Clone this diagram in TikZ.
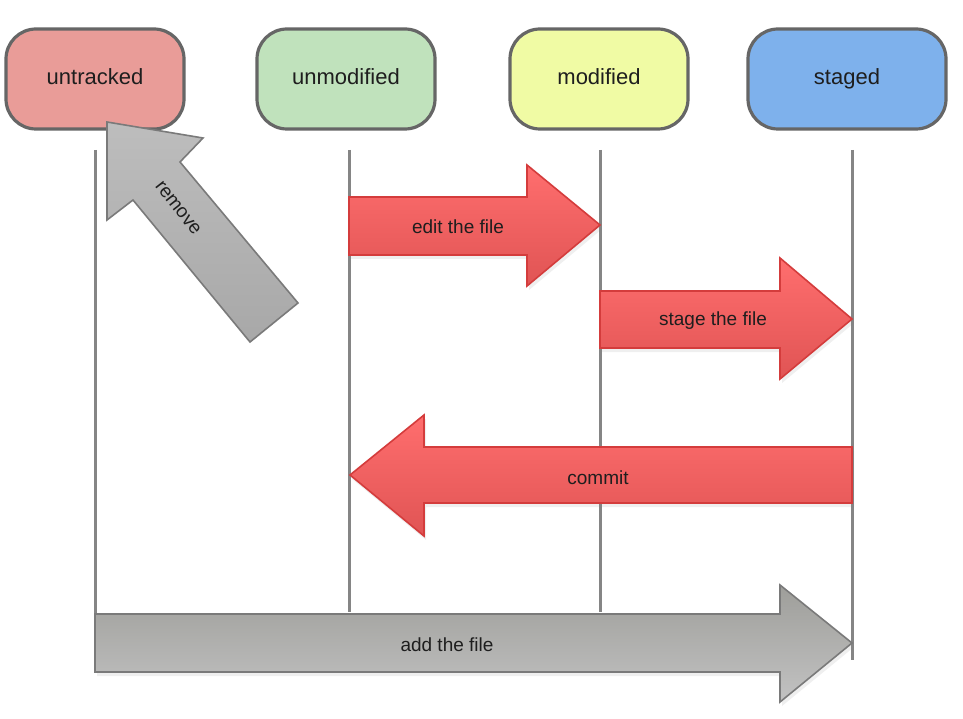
\documentclass[tikz,border=0pt]{standalone}
\usepackage{fontspec}
\setmainfont{Liberation Sans}
\usetikzlibrary{shadows}
\definecolor{cuntr}{HTML}{E99C98}
\definecolor{cunmod}{HTML}{C0E2BC}
\definecolor{cmod}{HTML}{F0FBA4}
\definecolor{cstaged}{HTML}{7EB1EC}
\definecolor{cborder}{HTML}{666666}
\definecolor{cline}{HTML}{858585}
\definecolor{credtop}{HTML}{FF6E6E}
\definecolor{credbot}{HTML}{E05454}
\definecolor{credline}{HTML}{D43C3C}
\definecolor{cgraytop}{HTML}{9E9E9A}
\definecolor{cgraybot}{HTML}{C2C2C2}
\definecolor{cgrayline}{HTML}{7A7A7A}
\definecolor{cremtop}{HTML}{BDBDBD}
\definecolor{crembot}{HTML}{A8A8A8}
\definecolor{ctext}{HTML}{1E1E1E}
\begin{document}
\begin{tikzpicture}[x=1pt,y=-1pt,
  statebox/.style={draw=cborder, line width=3.2pt, rounded corners=30pt,
    minimum width=178pt, minimum height=100pt, inner sep=0pt,
    text height=16pt, text depth=5pt,
    font=\fontsize{22}{26}\selectfont, text=ctext},
  lifeline/.style={draw=cline, line width=3pt},
  redarrow/.style={draw=credline, line width=1.6pt, top color=credtop, bottom color=credbot,
    line join=miter, drop shadow={opacity=0.12, shadow xshift=2pt, shadow yshift=-4pt}},
  grayarrow/.style={draw=cgrayline, line width=1.6pt, top color=cgraytop, bottom color=cgraybot,
    line join=miter, drop shadow={opacity=0.12, shadow xshift=2pt, shadow yshift=-4pt}},
  arrowlabel/.style={font=\fontsize{19}{23}\selectfont, text=ctext, inner sep=0pt}]
\useasboundingbox (0,0) rectangle (963,719);
\fill[white] (0,0) rectangle (963,719);

% lifelines
\coordinate (l1t) at (95,150);  \coordinate (l1b) at (95,668);
\coordinate (l2t) at (349,150); \coordinate (l2b) at (349,612);
\coordinate (l3t) at (600,150); \coordinate (l3b) at (600,612);
\coordinate (l4t) at (852,150); \coordinate (l4b) at (852,660);
\draw[lifeline] (l1t) -- (l1b);
\draw[lifeline] (l2t) -- (l2b);
\draw[lifeline] (l3t) -- (l3b);
\draw[lifeline] (l4t) -- (l4b);

% state boxes
\node[statebox, fill=cuntr]   (untracked)  at (95,79)  {untracked};
\node[statebox, fill=cunmod]  (unmodified) at (346,79) {unmodified};
\node[statebox, fill=cmod]    (modified)   at (599,79) {modified};
\node[statebox, fill=cstaged, minimum width=198pt] (staged) at (847,79) {staged};

% edit the file
\path[redarrow] (349,197) -- (527,197) -- (527,165) -- (600,225) -- (527,286) -- (527,255) -- (349,255) -- cycle;
\node[arrowlabel] (edit) at (458,227) {edit the file};

% stage the file
\path[redarrow] (600,291) -- (780,291) -- (780,258) -- (852,319) -- (780,379) -- (780,348) -- (600,348) -- cycle;
\node[arrowlabel] (stage) at (713,321) {stage the file};

% commit
\path[redarrow] (852,447) -- (424,447) -- (424,415) -- (350,475) -- (424,536) -- (424,503) -- (852,503) -- cycle;
\node[arrowlabel] (commit) at (598,478) {commit};

% add the file
\path[grayarrow] (95,614) -- (780,614) -- (780,585) -- (852,643) -- (780,702) -- (780,672) -- (95,672) -- cycle;
\node[arrowlabel] (add) at (447,645) {add the file};

% remove
\path[draw=cgrayline, line width=1.6pt, line join=miter, top color=cremtop, bottom color=crembot]
  (107,122) -- (203,138) -- (180,162) -- (298,303) -- (250,342) -- (133,200) -- (107,220) -- cycle;
\node[arrowlabel, rotate=-52] (remove) at (178,208) {remove};
\end{tikzpicture}
\end{document}
